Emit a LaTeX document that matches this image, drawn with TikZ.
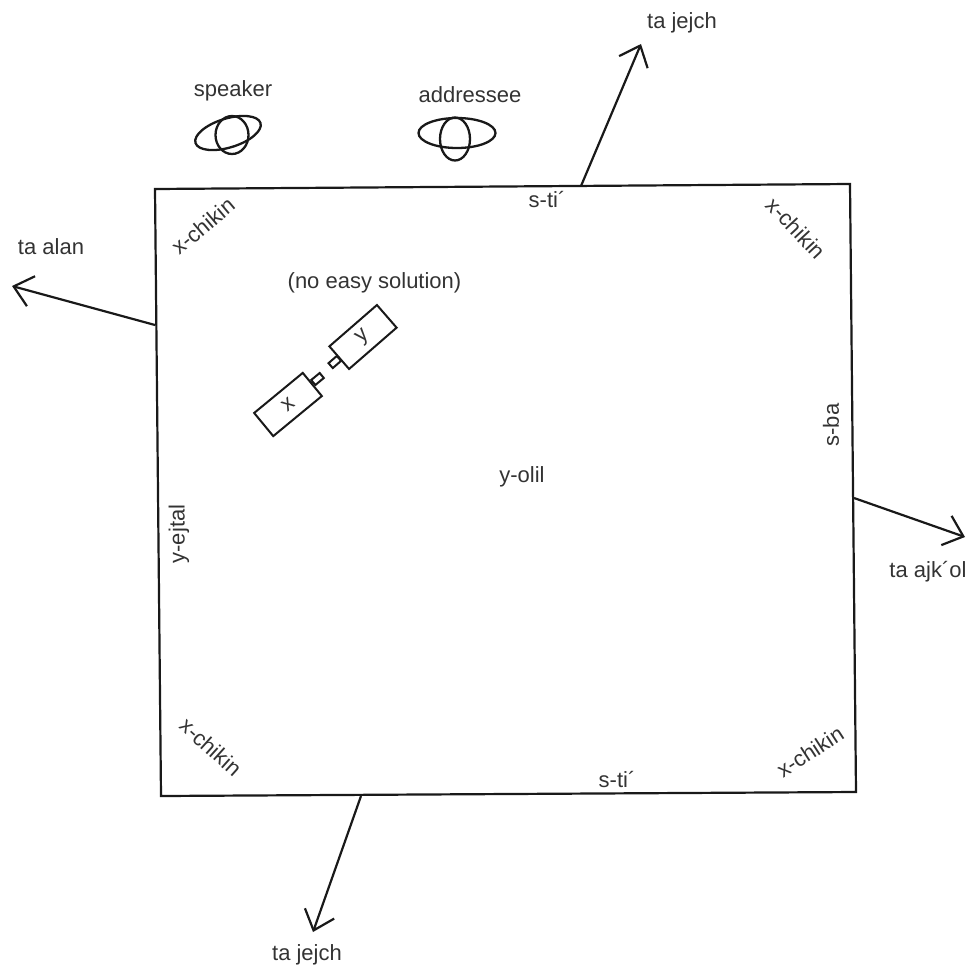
\documentclass[tikz,border=0pt]{standalone}
\usepackage{fontspec}
\setmainfont{Liberation Sans}
\usetikzlibrary{arrows.meta,shapes.geometric}
\definecolor{ink}{gray}{0.1}
\definecolor{soft}{gray}{0.2}
\tikzset{
  lab/.style={font=\fontsize{22}{26}\selectfont, text=soft, inner sep=0pt},
  frame/.style={draw=ink, line width=2.2pt, line join=miter},
  dir/.style={draw=ink, line width=2.2pt, -{Straight Barb[length=18pt,width=31pt,line width=2.2pt]}},
  orb/.style={ellipse, draw=ink, line width=2.3pt, inner sep=0pt},
  cam/.style={rectangle, draw=ink, line width=2pt, minimum width=63pt, minimum height=30pt, inner sep=0pt, font=\fontsize{22}{26}\selectfont, text=soft},
  stub/.style={rectangle, draw=ink, line width=2pt, minimum width=11pt, minimum height=6.5pt, inner sep=0pt},
}
\begin{document}
\begin{tikzpicture}[x=1pt,y=-1pt]
\useasboundingbox (0,0) rectangle (977,970);
% room
\coordinate (tl) at (155,189);
\coordinate (tr) at (850,184);
\coordinate (br) at (856,792);
\coordinate (bl) at (161,796);
\draw[frame] (tl) -- (tr) -- (br) -- (bl) -- cycle;
% direction arrows
\coordinate (nA) at (581,186);
\coordinate (nB) at (641,44);
\coordinate (wA) at (155,325);
\coordinate (wB) at (12,286);
\coordinate (eA) at (854,498);
\coordinate (eB) at (965,537);
\coordinate (sA) at (361,796);
\coordinate (sB) at (313,932);
\draw[dir] (nA) -- (nB);
\draw[dir] (wA) -- (wB);
\draw[dir] (eA) -- (eB);
\draw[dir] (sA) -- (sB);
% participants
\node[orb, minimum width=68pt, minimum height=29pt, rotate=17] (spkE) at (228,133) {};
\node[orb, minimum width=33pt, minimum height=38pt] (spkC) at (232,135) {};
\node[orb, minimum width=77pt, minimum height=30pt] (adrE) at (457,133) {};
\node[orb, minimum width=30pt, minimum height=43pt] (adrC) at (455,139) {};
% cameras
\node[cam, rotate=41] (camY) at (363,337) {y};
\node[cam, rotate=39.5] (camX) at (288,404.5) {x};
\node[stub, rotate=41] (stubY) at (334.8,362) {};
\node[stub, rotate=39.5] (stubX) at (317.5,379) {};
% labels
\node[lab] (l1) at (233,91) {speaker};
\node[lab] (l2) at (470,95) {addressee};
\node[lab] (l3) at (682,23) {ta jejch};
\node[lab] (l4) at (374.5,283) {(no easy solution)};
\node[lab] (l5) at (51,247) {ta alan};
\node[lab, rotate=40] (l6) at (203,226) {x-chikin};
\node[lab, rotate=-47] (l7) at (796,228) {x-chikin};
\node[lab] (l8) at (547,200) {s-ti´};
\node[lab, rotate=90] (l9) at (831,425) {s-ba};
\node[lab] (l10) at (522,477) {y-olil};
\node[lab, rotate=90] (l11) at (179,534) {y-ejtal};
\node[lab] (l12) at (928,572) {ta ajk´ol};
\node[lab, rotate=-42] (l13) at (211,747) {x-chikin};
\node[lab, rotate=33] (l14) at (810,752) {x-chikin};
\node[lab] (l15) at (617,779) {s-ti´};
\node[lab] (l16) at (307,955) {ta jejch};
\end{tikzpicture}
\end{document}
